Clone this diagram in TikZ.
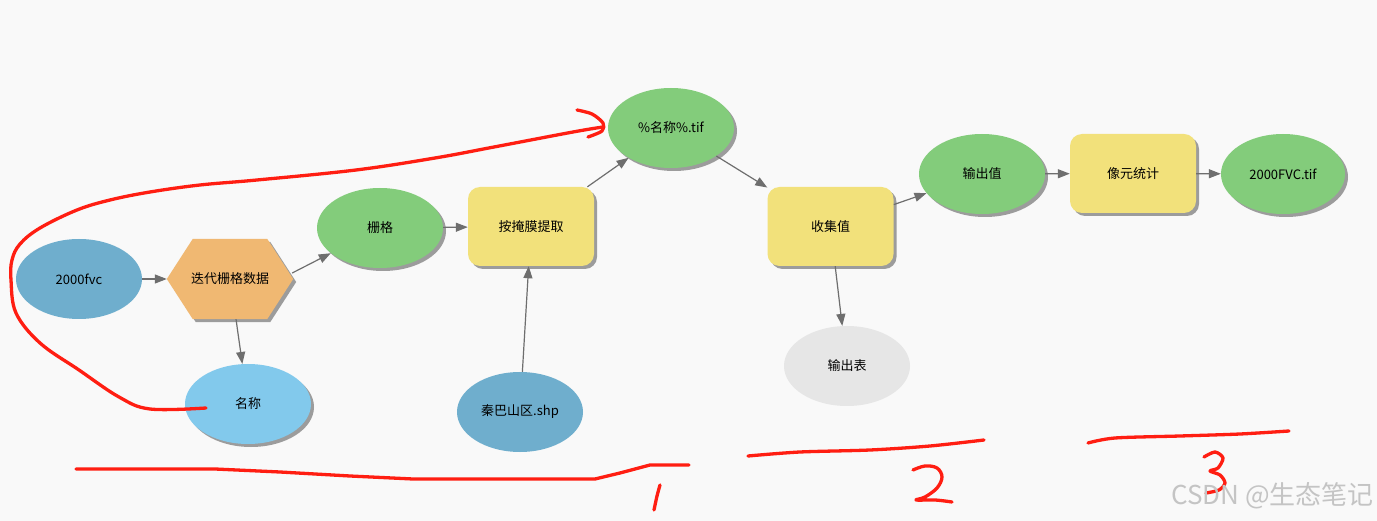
\documentclass[tikz,border=0pt]{standalone}
\usepackage{fontspec}
\setmainfont{Noto Sans CJK SC}
\usetikzlibrary{shapes.geometric,arrows.meta,shadows,backgrounds}
\definecolor{bgc}{HTML}{F9F9F9}
\definecolor{dblue}{HTML}{6FAECD}
\definecolor{lblue}{HTML}{82C9EC}
\definecolor{green1}{HTML}{83CC7B}
\definecolor{yellow1}{HTML}{F2E17B}
\definecolor{orange1}{HTML}{F0B872}
\definecolor{gray1}{HTML}{E6E6E6}
\definecolor{shadowc}{HTML}{9C9C9C}
\definecolor{linec}{HTML}{6E6E6E}
\definecolor{redc}{HTML}{FF1E12}
\definecolor{wmc}{HTML}{C4C4C4}
\tikzset{
  lbl/.style={font=\fontsize{13pt}{15pt}\selectfont, text=black},
  shad/.style={drop shadow={shadow xshift=3pt, shadow yshift=-3pt, opacity=1, fill=shadowc}},
  ell/.style={lbl, ellipse, minimum width=126pt, minimum height=80pt, inner sep=0pt},
  tool/.style={lbl, rectangle, rounded corners=12pt, minimum width=126pt, minimum height=79pt, inner sep=0pt, fill=yellow1, shad},
  conn/.style={draw=linec, line width=1.2pt, -{Triangle[length=12pt,width=9pt]}},
  annot/.style={draw=redc, line width=3.3pt, line cap=round, line join=round},
}
\begin{document}
\begin{tikzpicture}[x=1pt,y=-1pt]
\begin{pgfonlayer}{background}
\fill[bgc] (0,0) rectangle (1377,521);
\end{pgfonlayer}
\useasboundingbox (0,0) rectangle (1377,521);

% nodes
\node[ell, fill=dblue] (fvc) at (79,279) {2000fvc};
\node[lbl, rectangle, minimum width=126pt, minimum height=80pt, inner sep=0pt] (hex) at (230,279) {迭代栅格数据};
\begin{pgfonlayer}{background}
\fill[shadowc] ([shift={(3,3)}]hex.west) -- ([shift={(29,3)}]hex.north west) -- ([shift={(-23,3)}]hex.north east) -- ([shift={(3,3)}]hex.east) -- ([shift={(-23,3)}]hex.south east) -- ([shift={(29,3)}]hex.south west) -- cycle;
\fill[orange1] (hex.west) -- ([shift={(26,0)}]hex.north west) -- ([shift={(-26,0)}]hex.north east) -- (hex.east) -- ([shift={(-26,0)}]hex.south east) -- ([shift={(26,0)}]hex.south west) -- cycle;
\end{pgfonlayer}
\node[ell, fill=lblue, shad] (name) at (248,404) {名称};
\node[ell, fill=green1, shad] (grid) at (380,228) {栅格};
\node[tool] (mask) at (531,226.5) {按掩膜提取};
\node[ell, fill=dblue] (shp) at (520,412) {秦巴山区.shp};
\node[ell, fill=green1, shad] (tif) at (671,128) {\%名称\%.tif};
\node[tool] (collect) at (830.5,226.5) {收集值};
\node[ell, fill=gray1] (outtab) at (847,366) {输出表};
\node[ell, fill=green1, shad] (outval) at (982,174) {输出值};
\node[tool] (stat) at (1133,173.5) {像元统计};
\node[ell, fill=green1, shad, minimum width=124pt] (fvctif) at (1283,174) {2000FVC.tif};

% connectors
\draw[conn] (fvc) -- (hex);
\draw[conn] ([shift={(-1,-6)}]hex.east) -- (grid);
\draw[conn] ([shift={(6,0)}]hex.south) -- (name);
\draw[conn] (grid) -- (mask);
\draw[conn] (shp) -- (mask);
\draw[conn] (mask) -- (tif);
\draw[conn] (tif) -- (collect);
\draw[conn] (collect) -- (outval);
\draw[conn] (collect) -- (outtab);
\draw[conn] (outval) -- (stat);
\draw[conn] (stat) -- (fvctif);

% red annotations
\draw[annot] plot[smooth, tension=0.6] coordinates {(206,408) (150,409) (119,397) (79,370) (40,343) (16,313) (11,280) (12,260) (20,244) (40,228) (77,210) (110,200) (150,192) (200,185) (257,180) (356,170) (435,158) (494,147) (573,132) (603,127)};
\draw[annot] plot[smooth, tension=0.5] coordinates {(577,110) (592,114) (603,123) (602,131) (588,137)};
\draw[annot] (76,469) -- (215,469) -- (280,472) -- (350,476) -- (413,479) -- (595,479) -- (620,473) -- (650,465) -- (689,465);
\draw[annot] plot[smooth] coordinates {(660,485) (657,496) (654,510)};
\draw[annot] plot[smooth, tension=0.6] coordinates {(913,470) (925,466) (937,468) (942,477) (937,488) (925,497) (916,500) (935,500) (952,502)};
\draw[annot] plot[smooth, tension=0.5] coordinates {(748,456) (800,452) (870,450) (930,446) (984,440)};
\draw[annot] plot[smooth, tension=0.5] coordinates {(1204,457) (1215,452) (1223,458) (1218,468) (1210,471) (1220,475) (1225,483) (1219,490) (1206,493)};
\draw[annot] plot[smooth, tension=0.5] coordinates {(1088,443) (1115,438) (1180,436) (1240,434) (1289,431)};

% watermark
\node[text=wmc, font=\fontsize{26pt}{28pt}\selectfont, anchor=east, inner sep=0pt] (wm) at (1374,496) {CSDN @生态笔记};
\end{tikzpicture}
\end{document}
